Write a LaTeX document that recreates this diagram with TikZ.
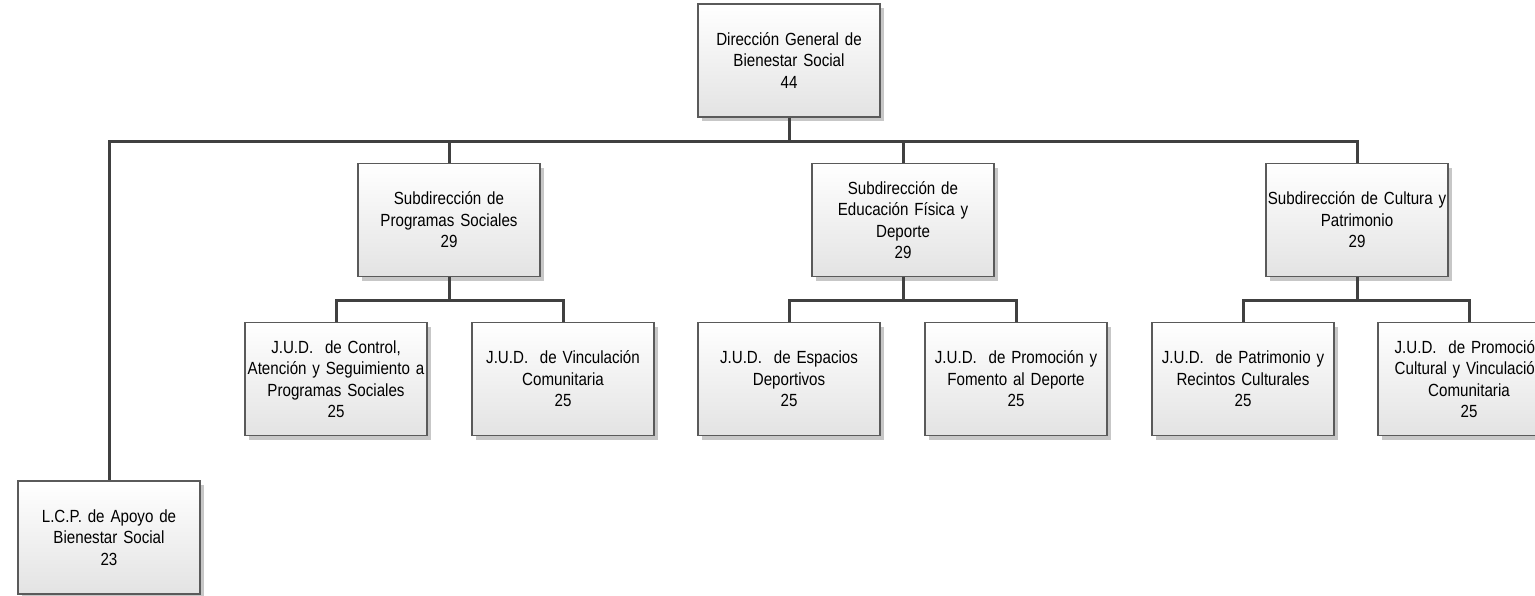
\documentclass[tikz,border=0pt]{standalone}
\usepackage{fontspec}
\setmainfont{Liberation Sans}[FakeStretch=0.86]
\usetikzlibrary{shadows}
\definecolor{linec}{HTML}{404040}
\definecolor{boxc}{HTML}{5A5A5A}
\tikzset{
  orgbox/.style={draw=boxc, line width=1.1pt, minimum width=182pt, minimum height=113pt,
    inner sep=1pt, align=center, text width=180pt,
    top color=white, bottom color=black!11,
    drop shadow={shadow xshift=4pt, shadow yshift=-4pt, fill=black!22, opacity=1},
    font=\fontsize{17.6}{21.5}\selectfont},
  conn/.style={draw=linec, line width=3pt}
}
\begin{document}
\begin{tikzpicture}[x=1pt,y=-1pt]
\useasboundingbox (0,0) rectangle (1535,595);
% nodes
\node[orgbox] (top) at (789,60.5) {Dirección General de\\Bienestar Social\\44};
\node[orgbox] (prog) at (449,220) {Subdirección de\\Programas Sociales\\29};
\node[orgbox] (edu) at (903,220) {Subdirección de\\Educación Física y\\Deporte\\29};
\node[orgbox] (cult) at (1357,220) {Subdirección de Cultura y\\Patrimonio\\29};
\node[orgbox] (l1) at (336,379) {J.U.D.\ \ de Control,\\Atención y Seguimiento a\\Programas Sociales\\25};
\node[orgbox] (l2) at (563,379) {J.U.D.\ \ de Vinculación\\Comunitaria\\25};
\node[orgbox] (l3) at (789,379) {J.U.D.\ \ de Espacios\\Deportivos\\25};
\node[orgbox] (l4) at (1016,379) {J.U.D.\ \ de Promoción y\\Fomento al Deporte\\25};
\node[orgbox] (l5) at (1243,379) {J.U.D.\ \ de Patrimonio y\\Recintos Culturales\\25};
\node[orgbox] (l6) at (1469,379) {J.U.D.\ \ de Promoción\\Cultural y Vinculación\\Comunitaria\\25};
\node[orgbox] (lcp) at (109,537.5) {L.C.P. de Apoyo de\\Bienestar Social\\23};
% buses
\coordinate (bus) at (789,141);
\coordinate (pb) at (449,300);
\coordinate (eb) at (903,300);
\coordinate (cb) at (1357,300);
% connectors
\draw[conn] (top.south) -- (bus);
\draw[conn] (bus) -| (lcp.north);
\draw[conn] (bus) -| (prog.north);
\draw[conn] (bus) -| (edu.north);
\draw[conn] (bus) -| (cult.north);
\draw[conn] (prog.south) -- (pb);
\draw[conn] (pb) -| (l1.north);
\draw[conn] (pb) -| (l2.north);
\draw[conn] (edu.south) -- (eb);
\draw[conn] (eb) -| (l3.north);
\draw[conn] (eb) -| (l4.north);
\draw[conn] (cult.south) -- (cb);
\draw[conn] (cb) -| (l5.north);
\draw[conn] (cb) -| (l6.north);
\end{tikzpicture}
\end{document}
